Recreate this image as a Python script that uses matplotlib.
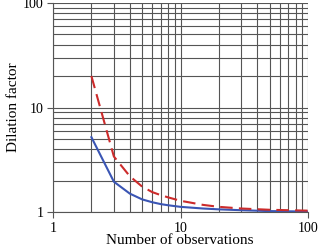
import matplotlib
matplotlib.use("Agg")
import matplotlib.pyplot as plt
from matplotlib.ticker import LogLocator, NullFormatter, FixedFormatter, FixedLocator

n_obs = [2, 3, 4, 5, 6, 7, 8, 10, 15, 20, 30, 50, 100]
blue_vals = [5.2, 1.95, 1.5, 1.32, 1.24, 1.19, 1.16, 1.12, 1.08, 1.06, 1.04, 1.02, 1.01]
red_vals = [20.0, 3.4, 2.2, 1.75, 1.55, 1.45, 1.38, 1.28, 1.17, 1.12, 1.08, 1.05, 1.03]
tick_vals = [1, 10, 100]
tick_labels = ["1", "10", "100"]

plt.rcParams['font.family'] = ['Liberation Serif', 'DejaVu Serif']

fig = plt.figure(figsize=(3.26, 2.45), dpi=100)
ax = fig.add_axes([0.1626, 0.1347, 0.7824, 0.853])

ax.set_xscale('log')
ax.set_yscale('log')
ax.set_xlim(1, 100)
ax.set_ylim(1, 100)

ax.plot(n_obs, blue_vals, color='#3a55b4', lw=1.5, zorder=3)
ax.plot(n_obs, red_vals, color='#cc2b2b', lw=1.5, ls=(0, (6, 3)), zorder=3)

for axis in (ax.xaxis, ax.yaxis):
    axis.set_major_locator(FixedLocator(tick_vals))
    axis.set_major_formatter(FixedFormatter(tick_labels))
    axis.set_minor_locator(LogLocator(base=10, subs=range(2, 10)))
    axis.set_minor_formatter(NullFormatter())

ax.grid(True, which='both', color='#555555', lw=0.8)
ax.tick_params(which='major', length=4, width=0.8, color='#555555', labelsize=10, pad=3)
ax.tick_params(which='minor', length=0)
for side in ('top', 'right'):
    ax.spines[side].set_visible(False)
for side in ('left', 'bottom'):
    ax.spines[side].set_color('#555555')

ax.set_ylabel("Dilation factor", fontsize=11, labelpad=2)
fig.text(0.55, 0.045, "Number of observations", fontsize=11, ha='center', va='top')

fig.savefig("out.png", dpi=100)
